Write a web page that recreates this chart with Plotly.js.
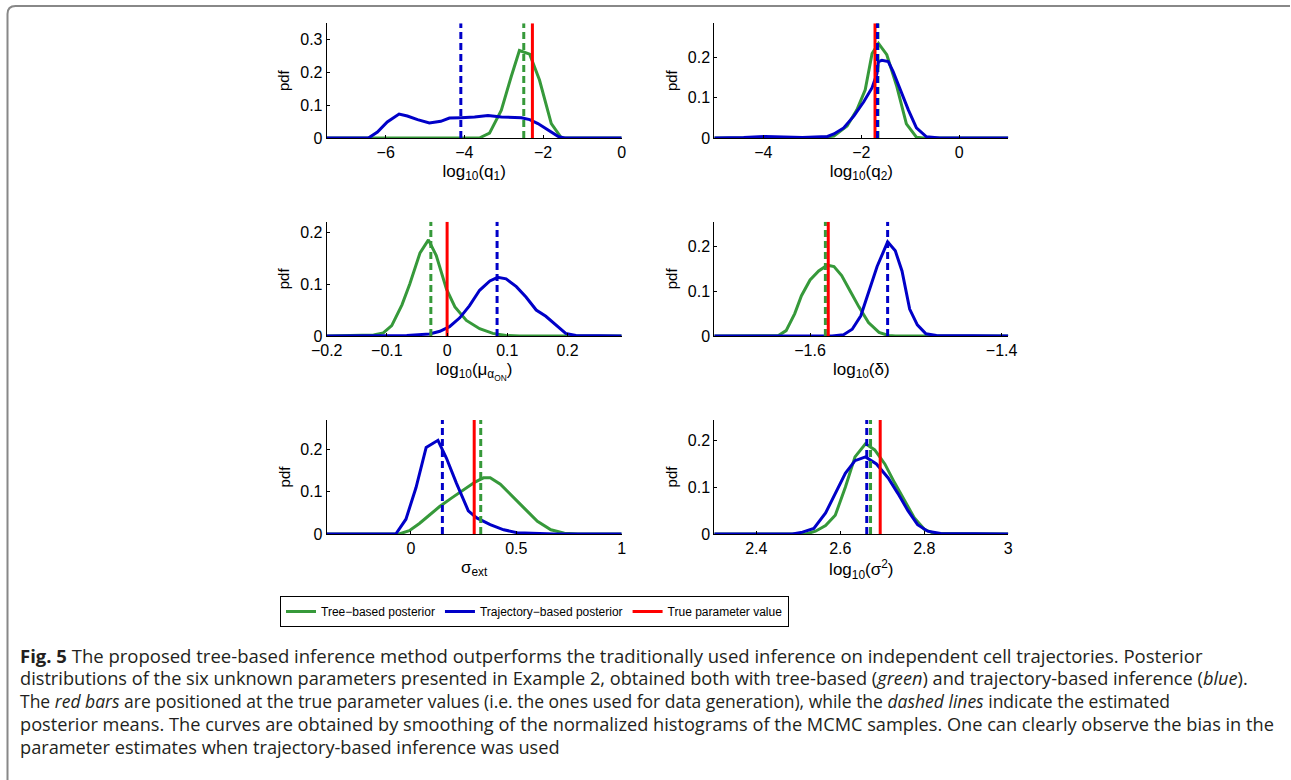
<!DOCTYPE html>
<html><head><meta charset="utf-8">
<script src="https://cdn.plot.ly/plotly-3.0.1.min.js"></script>
<style>html,body{margin:0;padding:0;background:#fff}#chart{width:1291px;height:780px}</style>
</head><body><div id="chart"></div>
<script>
// ---- data ----
const legendNames = ["Tree\u2212based posterior", "Trajectory\u2212based posterior", "True parameter value"];
const xTitles = ["log<sub>10</sub>(q<sub>1</sub>)", "log<sub>10</sub>(q<sub>2</sub>)", "log<sub>10</sub>(\u03bc<sub>\u03b1<sub>ON</sub></sub>)", "log<sub>10</sub>(\u03b4)", "\u03c3<sub>ext</sub>", "log<sub>10</sub>(\u03c3<sup>2</sup>)"];

const treeX1 = [-7.5, -3.62, -3.36, -3.06, -2.81, -2.60, -2.34, -2.09, -1.79, -1.53, 0];
const treeY1 = [0, 0, 0.015, 0.085, 0.187, 0.267, 0.256, 0.177, 0.044, 0, 0];
const trajX1 = [-7.5, -6.44, -6.21, -5.96, -5.66, -5.45, -5.19, -4.89, -4.60, -4.38, -4.09, -3.74, -3.40, -3.06, -2.55, -2.34, -2.13, -1.87, -1.62, -1.45, 0];
const trajY1 = [0, 0, 0.018, 0.049, 0.073, 0.067, 0.056, 0.046, 0.051, 0.061, 0.062, 0.064, 0.069, 0.064, 0.062, 0.056, 0.044, 0.024, 0.005, 0, 0];

const treeX2 = [-5, -2.83, -2.56, -2.29, -2.09, -1.92, -1.78, -1.65, -1.48, -1.28, -1.08, -0.875, -0.74, 1];
const treeY2 = [0, 0, 0.005, 0.03, 0.07, 0.12, 0.21, 0.235, 0.207, 0.13, 0.035, 0.002, 0, 0];
const trajX2 = [-5, -4.4, -3.96, -3.6, -3.2, -2.69, -2.56, -2.36, -2.15, -1.95, -1.78, -1.68, -1.65, -1.58, -1.45, -1.35, -1.21, -1.04, -0.875, -0.67, -0.40, 1];
const trajY2 = [0, 0.001, 0.004, 0.002, 0.001, 0.004, 0.01, 0.025, 0.055, 0.09, 0.125, 0.16, 0.19, 0.193, 0.19, 0.165, 0.12, 0.07, 0.025, 0.003, 0, 0];

const treeX3 = [-0.2, -0.122, -0.106, -0.092, -0.075, -0.062, -0.045, -0.031, -0.018, -0.001, 0.013, 0.032, 0.054, 0.076, 0.098, 0.12, 0.29];
const treeY3 = [0, 0.002, 0.006, 0.02, 0.06, 0.10, 0.16, 0.185, 0.155, 0.09, 0.056, 0.030, 0.014, 0.005, 0.001, 0, 0];
const trajX3 = [-0.2, -0.067, -0.029, -0.012, 0.004, 0.021, 0.037, 0.054, 0.071, 0.084, 0.098, 0.115, 0.131, 0.148, 0.164, 0.181, 0.197, 0.214, 0.29];
const trajY3 = [0, 0.001, 0.004, 0.009, 0.018, 0.035, 0.058, 0.088, 0.106, 0.113, 0.11, 0.095, 0.075, 0.05, 0.038, 0.02, 0.005, 0.001, 0];

const treeX4 = [-1.7, -1.633, -1.625, -1.616, -1.609, -1.600, -1.591, -1.582, -1.575, -1.567, -1.558, -1.549, -1.539, -1.528, -1.518, -1.511, -1.393];
const treeY4 = [0, 0.001, 0.012, 0.05, 0.09, 0.125, 0.145, 0.158, 0.155, 0.135, 0.10, 0.065, 0.03, 0.008, 0.001, 0, 0];
const trajX4 = [-1.7, -1.577, -1.565, -1.556, -1.547, -1.539, -1.530, -1.519, -1.511, -1.504, -1.496, -1.488, -1.479, -1.468, -1.393];
const trajY4 = [0, 0, 0.003, 0.015, 0.045, 0.095, 0.155, 0.21, 0.19, 0.145, 0.06, 0.025, 0.005, 0.001, 0];

const treeX5 = [-0.4, -0.056, -0.008, 0.04, 0.088, 0.136, 0.192, 0.248, 0.304, 0.344, 0.376, 0.424, 0.472, 0.536, 0.6, 0.664, 0.728, 0.792, 1];
const treeY5 = [0, 0, 0.008, 0.025, 0.045, 0.065, 0.085, 0.105, 0.123, 0.133, 0.133, 0.118, 0.095, 0.062, 0.03, 0.01, 0.002, 0, 0];
const trajX5 = [-0.4, -0.072, -0.024, 0.024, 0.072, 0.128, 0.168, 0.216, 0.272, 0.312, 0.376, 0.44, 0.504, 0.584, 0.68, 1];
const trajY5 = [0, 0, 0.035, 0.11, 0.205, 0.222, 0.18, 0.12, 0.055, 0.038, 0.022, 0.01, 0.003, 0.001, 0, 0];

const treeX6 = [2.3, 2.518, 2.541, 2.565, 2.588, 2.612, 2.635, 2.660, 2.682, 2.706, 2.729, 2.753, 2.776, 2.8, 2.824, 3];
const treeY6 = [0, 0, 0.006, 0.018, 0.04, 0.1, 0.165, 0.193, 0.18, 0.15, 0.11, 0.07, 0.035, 0.01, 0.001, 0];
const trajX6 = [2.3, 2.486, 2.510, 2.537, 2.565, 2.588, 2.612, 2.635, 2.660, 2.686, 2.714, 2.737, 2.761, 2.784, 2.808, 2.839, 3];
const trajY6 = [0, 0, 0.004, 0.012, 0.045, 0.085, 0.13, 0.157, 0.165, 0.15, 0.12, 0.087, 0.05, 0.02, 0.006, 0.001, 0];

const treeMeans = [-2.49, -1.66, -0.027, -1.584, 0.331, 2.672];
const trajMeans = [-4.09, -1.67, 0.083, -1.519, 0.149, 2.663];
const trueValues = [-2.27, -1.72, 0, -1.581, 0.3, 2.695];

const xTickVals = [[-6, -4, -2, 0], [-4, -2, 0], [-0.2, -0.1, 0, 0.1, 0.2], [-1.6, -1.4], [0, 0.5, 1], [2.4, 2.6, 2.8, 3]];
const yTickVals = [[0, 0.1, 0.2, 0.3], [0, 0.1, 0.2], [0, 0.1, 0.2], [0, 0.1, 0.2], [0, 0.1, 0.2], [0, 0.1, 0.2]];

const captionLines = [
  "<b>Fig. 5</b> The proposed tree-based inference method outperforms the traditionally used inference on independent cell trajectories. Posterior",
  "distributions of the six unknown parameters presented in Example 2, obtained both with tree-based (<i>green</i>) and trajectory-based inference (<i>blue</i>).",
  "The <i>red bars</i> are positioned at the true parameter values (i.e. the ones used for data generation), while the <i>dashed lines</i> indicate the estimated",
  "posterior means. The curves are obtained by smoothing of the normalized histograms of the MCMC samples. One can clearly observe the bias in the",
  "parameter estimates when trajectory-based inference was used"
];

// ---- layout helpers ----
const W = 1291, H = 780;
const treeXs = [treeX1, treeX2, treeX3, treeX4, treeX5, treeX6];
const treeYs = [treeY1, treeY2, treeY3, treeY4, treeY5, treeY6];
const trajXs = [trajX1, trajX2, trajX3, trajX4, trajX5, trajX6];
const trajYs = [trajY1, trajY2, trajY3, trajY4, trajY5, trajY6];
const xRanges = [[-7.5, 0], [-5, 1], [-0.2, 0.29], [-1.7, -1.393], [-0.4, 1], [2.3, 3]];
const yRanges = [[0, 0.35], [0, 0.285], [0, 0.22], [0, 0.255], [0, 0.27], [0, 0.244]];
const colPx = [[326.7, 621.7], [714.3, 1008.3]];
const rowPx = [[23.3, 138], [221.7, 336], [420, 534]];
const captionSizes = [18.5, 18.2, 17.5, 18.2, 18.2];

const GREEN = '#36993a', BLUE = '#0000c8', RED = '#ff0000';
const FONT = 'Liberation Sans, Arial, sans-serif';

const traces = [];
const layout = {
  width: W, height: H, margin: {l: 0, r: 0, t: 0, b: 0},
  paper_bgcolor: '#fff', plot_bgcolor: 'rgba(0,0,0,0)',
  font: {family: FONT, color: '#000', size: 15},
  showlegend: true,
  legend: {orientation: 'h', x: 280 / W, y: 1 - 596 / H, xanchor: 'left', yanchor: 'top',
           bordercolor: '#000', borderwidth: 1, bgcolor: '#fff',
           font: {family: FONT, size: 12, color: '#000'},
           itemwidth: 30, traceorder: 'normal', tracegroupgap: 0},
  annotations: [], shapes: []
};

for (let i = 0; i < 6; i++) {
  const n = i + 1;
  const xa = 'x' + (n === 1 ? '' : n), ya = 'y' + (n === 1 ? '' : n);
  const col = i % 2, row = Math.floor(i / 2);
  const ymax = yRanges[i][1];
  traces.push({x: treeXs[i], y: treeYs[i], xaxis: xa, yaxis: ya, mode: 'lines', name: legendNames[0],
               line: {color: GREEN, width: 3}, showlegend: i === 0, hoverinfo: 'skip'});
  traces.push({x: trajXs[i], y: trajYs[i], xaxis: xa, yaxis: ya, mode: 'lines', name: legendNames[1],
               line: {color: BLUE, width: 3}, showlegend: i === 0, hoverinfo: 'skip'});
  traces.push({x: [treeMeans[i], treeMeans[i]], y: [0, ymax], xaxis: xa, yaxis: ya, mode: 'lines',
               line: {color: GREEN, width: 3, dash: '7px,4px'}, showlegend: false, hoverinfo: 'skip'});
  traces.push({x: [trueValues[i], trueValues[i]], y: [0, ymax], xaxis: xa, yaxis: ya, mode: 'lines', name: legendNames[2],
               line: {color: RED, width: 3}, showlegend: i === 0, hoverinfo: 'skip'});
  traces.push({x: [trajMeans[i], trajMeans[i]], y: [0, ymax], xaxis: xa, yaxis: ya, mode: 'lines',
               line: {color: BLUE, width: 3, dash: '7px,4px'}, showlegend: false, hoverinfo: 'skip'});

  const axBase = {showline: true, linecolor: '#000', linewidth: 1, showgrid: false, zeroline: false,
                  ticks: 'inside', ticklen: 3, tickcolor: '#000', tickfont: {family: FONT, size: 16, color: '#000'},
                  fixedrange: true, automargin: false};
  layout['xaxis' + (n === 1 ? '' : n)] = Object.assign({}, axBase, {
    domain: [colPx[col][0] / W, colPx[col][1] / W], anchor: ya, range: xRanges[i],
    tickmode: 'array', tickvals: xTickVals[i],
    title: {text: xTitles[i], font: {family: FONT, size: 17, color: '#000'}, standoff: 4}
  });
  layout['yaxis' + (n === 1 ? '' : n)] = Object.assign({}, axBase, {
    domain: [1 - rowPx[row][1] / H, 1 - rowPx[row][0] / H], anchor: xa, range: yRanges[i],
    tickmode: 'array', tickvals: yTickVals[i],
    title: {text: 'pdf', font: {family: FONT, size: 15, color: '#000'}, standoff: 6}
  });
}

// caption
captionLines.forEach((t, k) => {
  layout.annotations.push({text: t, xref: 'paper', yref: 'paper', x: 18 / W, y: 1 - (655 + 23 * k) / H,
    xanchor: 'left', yanchor: 'middle', showarrow: false, align: 'left',
    font: {family: 'Open Sans, sans-serif', size: captionSizes[k], color: '#231f20'}});
});

// frame
const fx = 7.5 / W, fy = 1 - 6 / H, r = 8;
layout.shapes.push({type: 'path', xref: 'paper', yref: 'paper',
  path: `M ${fx},0 L ${fx},${1 - (6 + r) / H} Q ${fx},${fy} ${(7.5 + r) / W},${fy} L ${1290 / W},${fy}`,
  line: {color: '#888', width: 2}});

Plotly.newPlot('chart', traces, layout, {staticPlot: true, displayModeBar: false});
</script>
</body></html>
